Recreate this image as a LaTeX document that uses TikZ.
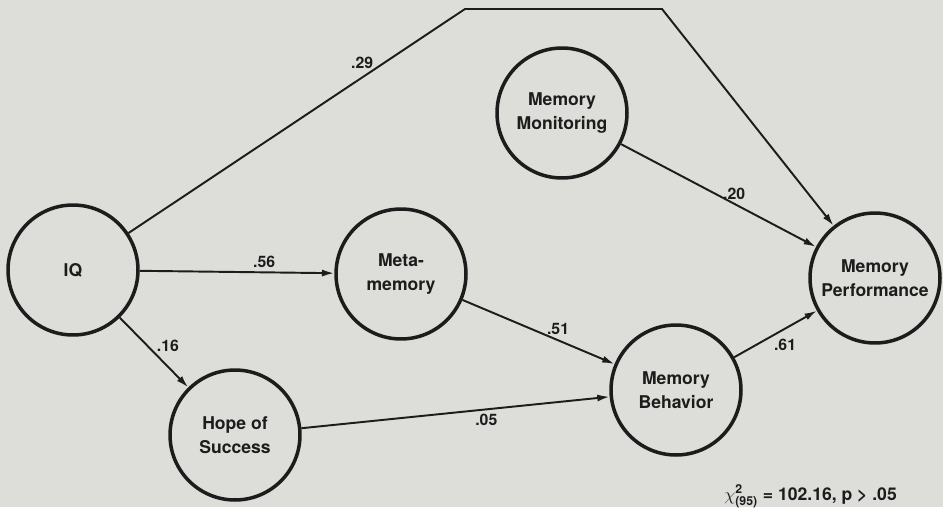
\documentclass[tikz,border=0pt]{standalone}
\usepackage{fontspec}
\setmainfont{TeX Gyre Heros}
\usetikzlibrary{arrows.meta}

\definecolor{paper}{RGB}{221,221,217}
\definecolor{ink}{RGB}{28,28,28}

\begin{document}
\begin{tikzpicture}[x=0.02cm,y=-0.02cm]
\tikzstyle{every node}=[font=\bfseries\fontsize{10}{14}\selectfont,text=ink]
\tikzstyle{var}=[circle,draw=ink,line width=2pt,minimum size=2.6cm,
  inner sep=0pt,align=center]
\tikzstyle{path}=[draw=ink,line width=1.1pt,-{Latex[length=7pt,width=4pt]}]
\tikzstyle{coef}=[font=\bfseries\fontsize{9}{10}\selectfont,inner sep=2pt]

%
% Paper background and frame
%
\fill[paper] (0,0) rectangle (943,507);
\useasboundingbox (0,0) rectangle (943,507);

%
% Draw the variables
%
\node[var] (iq)   at (73,270)  {IQ};
\node[var] (mon)  at (562,113) {Memory\\Monitoring};
\node[var] (meta) at (401,274) {Meta-\\memory};
\node[var] (hope) at (235,435) {Hope of\\Success};
\node[var] (beh)  at (676,390) {Memory\\Behavior};
\node[var] (perf) at (875,278) {Memory\\Performance};

% Corners of the long path over the top
\coordinate (up)   at (465,9);
\coordinate (down) at (662,9);

%
% Draw the paths with their coefficients
%
\draw[path] (iq) -- (up) node[coef,pos=0.73,above left=-2pt] {.29}
  -- (down) -- (perf);
\draw[path] (mon) -- (perf) node[coef,pos=0.58,above] {.20};
\draw[path] (iq) -- (meta) node[coef,pos=0.64,above] {.56};
\draw[path] (iq) -- (hope) node[coef,pos=0.40,right=3pt] {.16};
\draw[path] (meta) -- (beh) node[coef,pos=0.55,above right=-2pt] {.51};
\draw[path] (hope) -- (beh) node[coef,pos=0.60,below] {.05};
\draw[path] (beh) -- (perf) node[coef,pos=0.45,below right=-1pt] {.61};

%
% Fit of the model
%
\node[anchor=base east] (fit) at (903,500)
  {$\chi^{\mbox{\scriptsize 2}}_{\mbox{\scriptsize (95)}}$\ = 102.16, p > .05};

\end{tikzpicture}
\end{document}
